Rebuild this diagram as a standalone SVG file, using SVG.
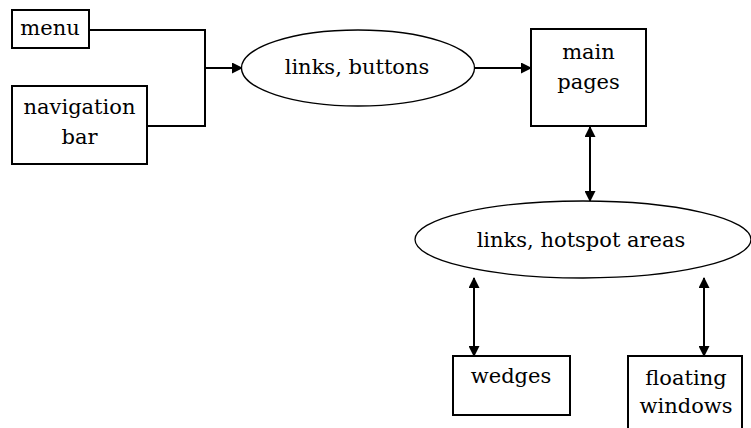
<svg xmlns="http://www.w3.org/2000/svg" width="751" height="428" viewBox="0 0 751 428">
<style>
  .box { fill: #fff; stroke: #000; stroke-width: 2; }
  .ell { fill: #fff; stroke: #000; stroke-width: 1.3; }
  .lbl { font-family: "DejaVu Serif", "Liberation Serif", serif; font-size: 21px; fill: #000; text-anchor: middle; }
  .con { fill: none; stroke: #000; stroke-width: 2; }
</style>
<defs>
  <marker id="ah" markerUnits="userSpaceOnUse" markerWidth="11" markerHeight="11" refX="10" refY="5.5" orient="auto-start-reverse" viewBox="0 0 11 11">
    <path d="M0,0 L11,5.5 L0,11 z" fill="#000"/>
  </marker>
</defs>
<rect width="751" height="428" fill="#fff"/>
<g id="connectors">
  <polyline class="con" points="89,30 205,30 205,126 147,126"/>
  <line class="con" x1="205" y1="68" x2="242" y2="68" marker-end="url(#ah)"/>
  <line class="con" x1="475" y1="68" x2="531" y2="68" marker-end="url(#ah)"/>
  <line class="con" x1="590" y1="127" x2="590" y2="201" marker-start="url(#ah)" marker-end="url(#ah)"/>
  <line class="con" x1="474" y1="278" x2="474" y2="356" marker-start="url(#ah)" marker-end="url(#ah)"/>
  <line class="con" x1="704" y1="278" x2="704" y2="356" marker-start="url(#ah)" marker-end="url(#ah)"/>
</g>
<g id="menu">
  <rect class="box" x="12" y="10" width="77" height="38"/>
  <text class="lbl" x="50" y="35">menu</text>
</g>
<g id="navbar">
  <rect class="box" x="12" y="86" width="135" height="78"/>
  <text class="lbl" x="79.5" y="114">navigation</text>
  <text class="lbl" x="79.5" y="144">bar</text>
</g>
<g id="links-buttons">
  <ellipse class="ell" cx="358" cy="68" rx="116.5" ry="38"/>
  <text class="lbl" x="357" y="74">links, buttons</text>
</g>
<g id="main-pages">
  <rect class="box" x="531" y="29" width="115" height="97"/>
  <text class="lbl" x="588.5" y="59">main</text>
  <text class="lbl" x="588.5" y="89">pages</text>
</g>
<g id="links-hotspot">
  <ellipse class="ell" cx="583" cy="239.5" rx="168" ry="38.5"/>
  <text class="lbl" x="581" y="247">links, hotspot areas</text>
</g>
<g id="wedges">
  <rect class="box" x="453" y="356" width="117" height="59"/>
  <text class="lbl" x="511" y="383">wedges</text>
</g>
<g id="floating">
  <rect class="box" x="628" y="356" width="114" height="80"/>
  <text class="lbl" x="686" y="385">floating</text>
  <text class="lbl" x="686" y="413">windows</text>
</g>
</svg>
